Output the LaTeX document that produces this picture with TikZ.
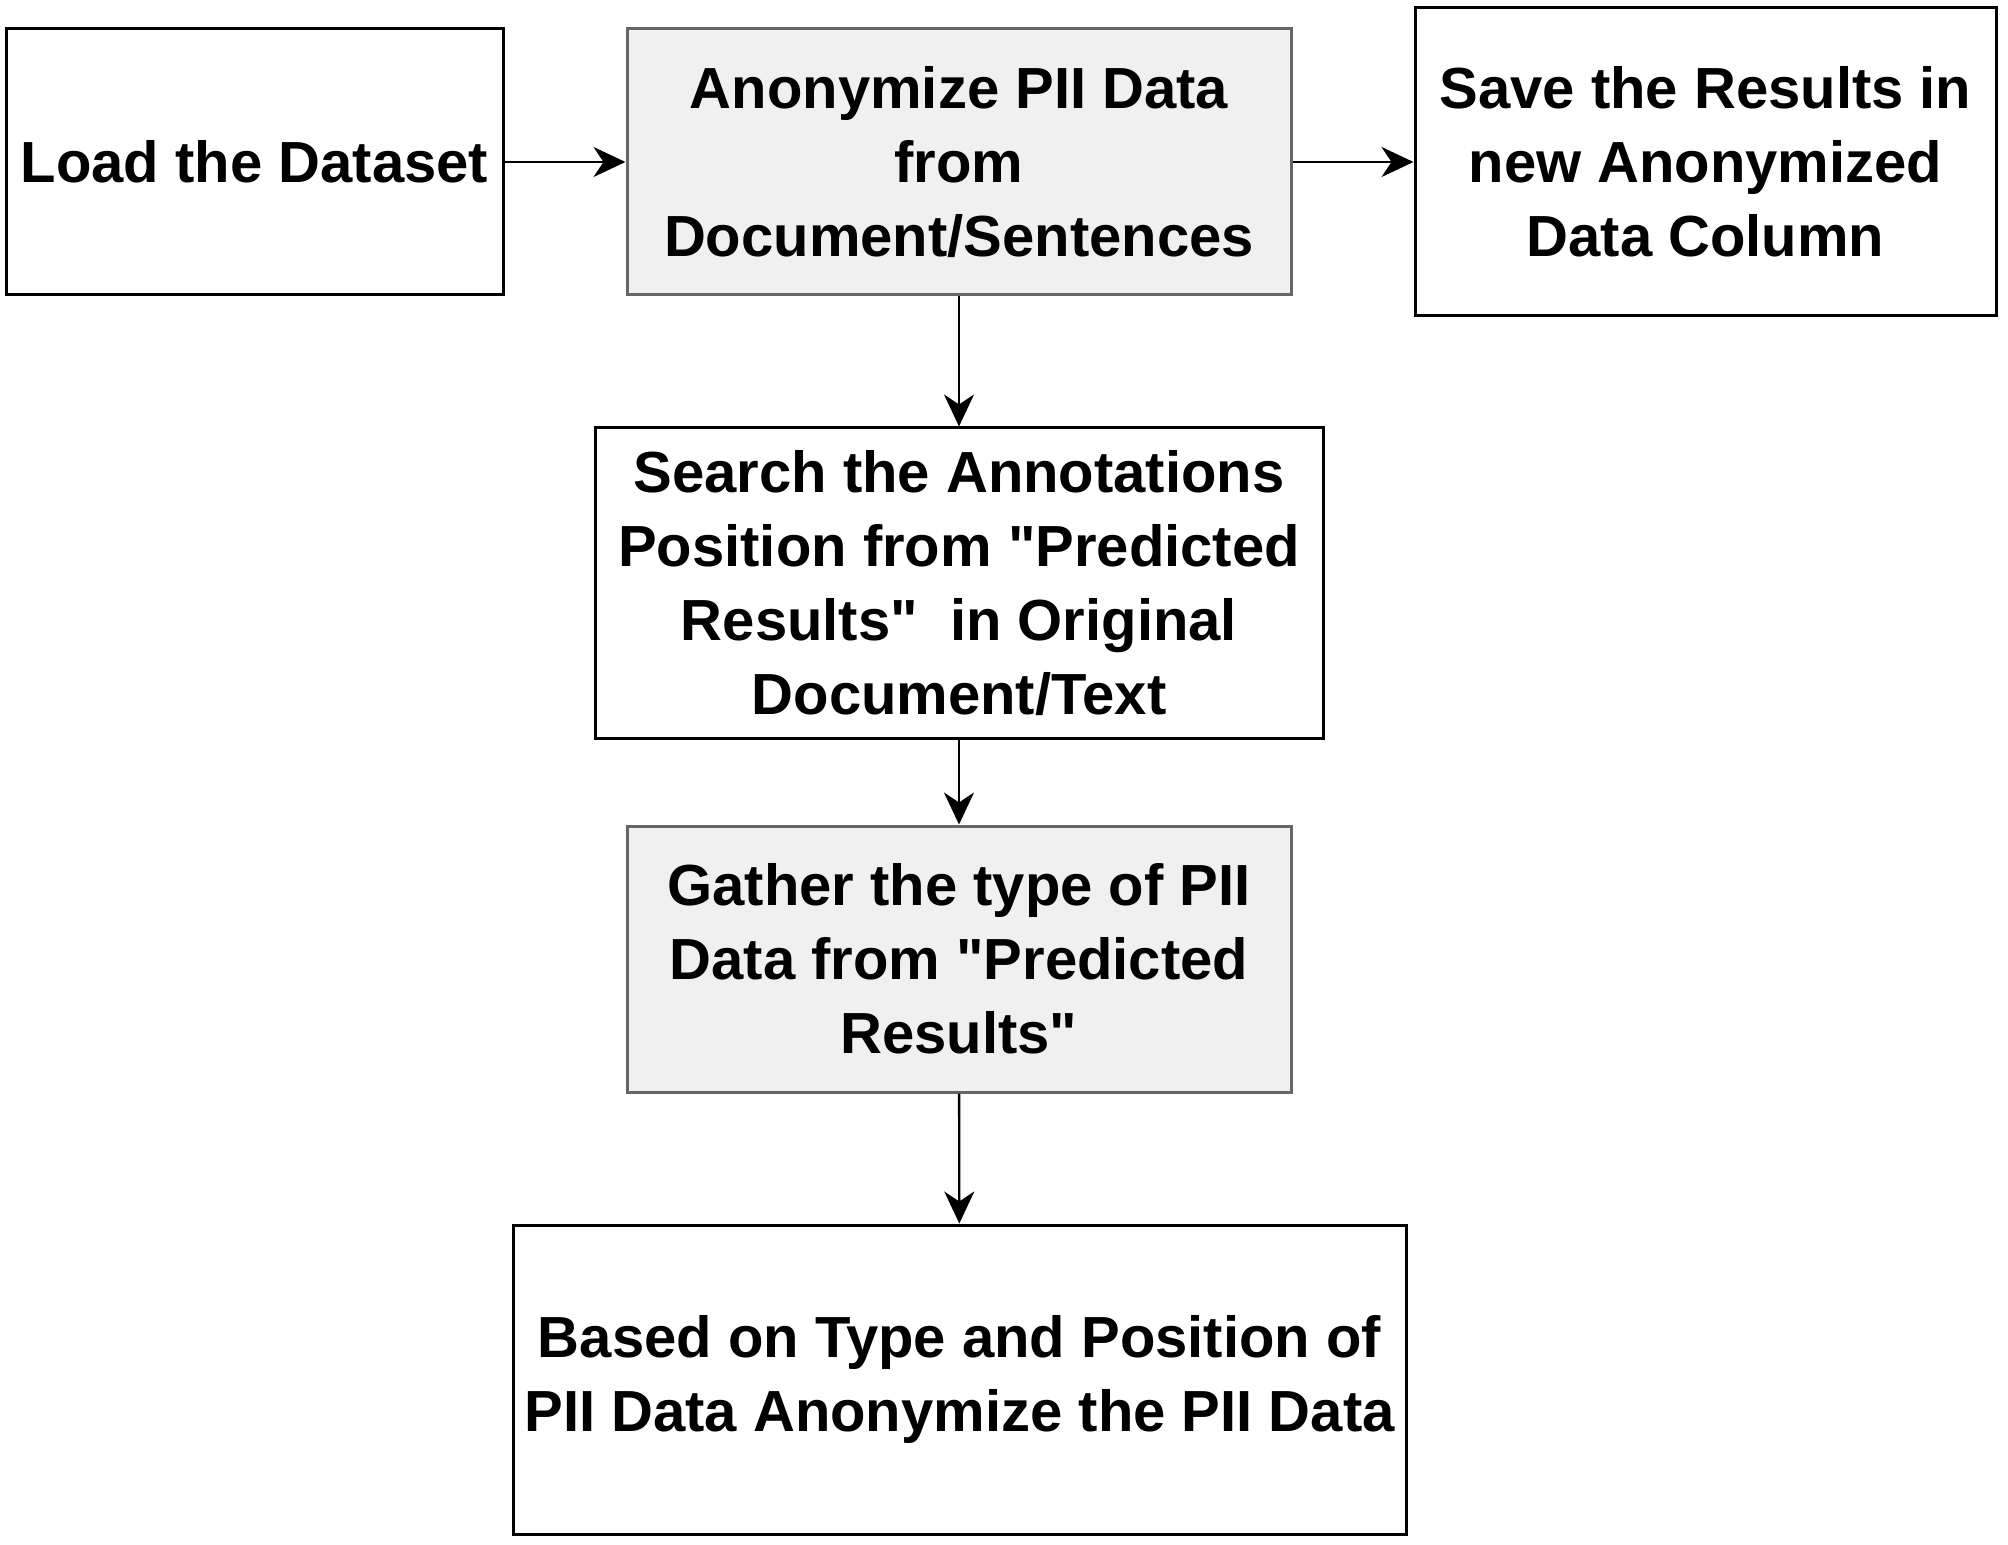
\documentclass[tikz,border=0pt]{standalone}
\usepackage{fontspec}
\setmainfont{Liberation Sans}
\usetikzlibrary{arrows.meta}

\begin{document}
\begin{tikzpicture}[x=0.5pt,y=-0.5pt,
   every node/.style={font=\bfseries\fontsize{29}{37}\selectfont,align=center,inner sep=0pt},
   plainbox/.style={draw=black,line width=1.5pt,fill=white,rectangle},
   greybox/.style={draw=black!60,line width=1.5pt,fill=black!6,rectangle},
   flow/.style={-{Stealth[length=16pt,width=15pt,inset=5pt]},line width=1.2pt}]

\useasboundingbox (0,0) rectangle (2008,1545);

\node[plainbox,minimum width=248.5pt,minimum height=133pt] (load) at (254.5,162) {Load the Dataset};
\node[greybox,minimum width=332pt,minimum height=133pt] (anon) at (959,162)
   {Anonymize PII Data\\from\\Document/Sentences};
\node[plainbox,minimum width=290.5pt,minimum height=154pt] (save) at (1705.5,162)
   {Save the Results in\\new Anonymized\\Data Column};
\node[plainbox,minimum width=364pt,minimum height=155pt] (search) at (959,583)
   {Search the Annotations\\Position from \textquotedbl Predicted\\Results\textquotedbl\ \ in Original\\Document/Text};
\node[greybox,minimum width=332pt,minimum height=133pt] (gather) at (959,959)
   {Gather the type of PII\\Data from \textquotedbl Predicted\\Results\textquotedbl};
\node[plainbox,minimum width=446.5pt,minimum height=154.5pt] (based) at (959.5,1379.5)
   {Based on Type and Position of\\PII Data Anonymize the PII Data};

\draw[flow] (load) -- (anon);
\draw[flow] (anon) -- (save);
\draw[flow] (anon) -- (search);
\draw[flow] (search) -- (gather);
\draw[flow] (gather) -- (based);
\end{tikzpicture}
\end{document}
